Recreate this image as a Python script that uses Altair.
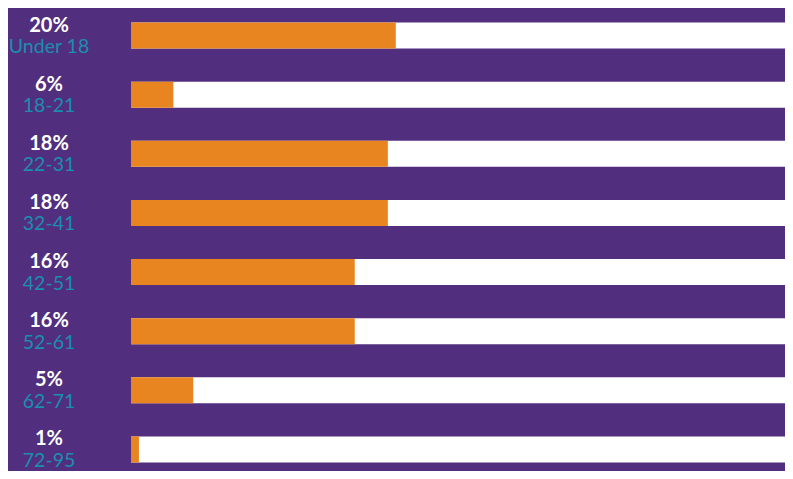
import altair as alt
import pandas as pd

age_groups = ["Under 18", "18-21", "22-31", "32-41", "42-51", "52-61", "62-71", "72-95"]
pct_labels = ["20%", "6%", "18%", "18%", "16%", "16%", "5%", "1%"]
bar_lengths = [20.0, 3.2, 19.4, 19.4, 16.9, 16.9, 4.7, 0.6]
track_max = 50

df = pd.DataFrame({
    "age": age_groups,
    "pct": pct_labels,
    "value": bar_lengths,
    "track": [track_max] * len(age_groups),
})

PURPLE = "#512E7E"
ORANGE = "#E98521"
TEAL = "#1A8EAF"
FONT = "Lato"

y = alt.Y("age:N", sort=age_groups, axis=None,
          scale=alt.Scale(range=[-2.0, 471.0], paddingInner=0, paddingOuter=0))
xscale = alt.Scale(domain=[0, track_max], range=[123, 785])

base = alt.Chart(df)

track = base.mark_bar(color="white", height=26).encode(
    x=alt.X("track:Q", scale=xscale, axis=None), y=y)
bars = base.mark_bar(color=ORANGE, height=26).encode(
    x=alt.X("value:Q", scale=xscale, axis=None), y=y)

pct_text = base.mark_text(font=FONT, fontSize=20, fontWeight="bold", color="white",
                          align="center", baseline="alphabetic", dy=-4).encode(
    x=alt.value(41), y=y, text="pct:N")
age_text = base.mark_text(font=FONT, fontSize=19.5, color=TEAL,
                          align="center", baseline="alphabetic", dy=17.5).encode(
    x=alt.value(41), y=y, text="age:N")

chart = alt.layer(track, bars, pct_text, age_text).properties(
    width=777, height=463,
    autosize=alt.AutoSizeParams(type="none"),
    padding=0,
).configure(background=PURPLE).configure_view(stroke=None)

chart.save("out.html", embed_options={"renderer": "svg", "actions": False})
